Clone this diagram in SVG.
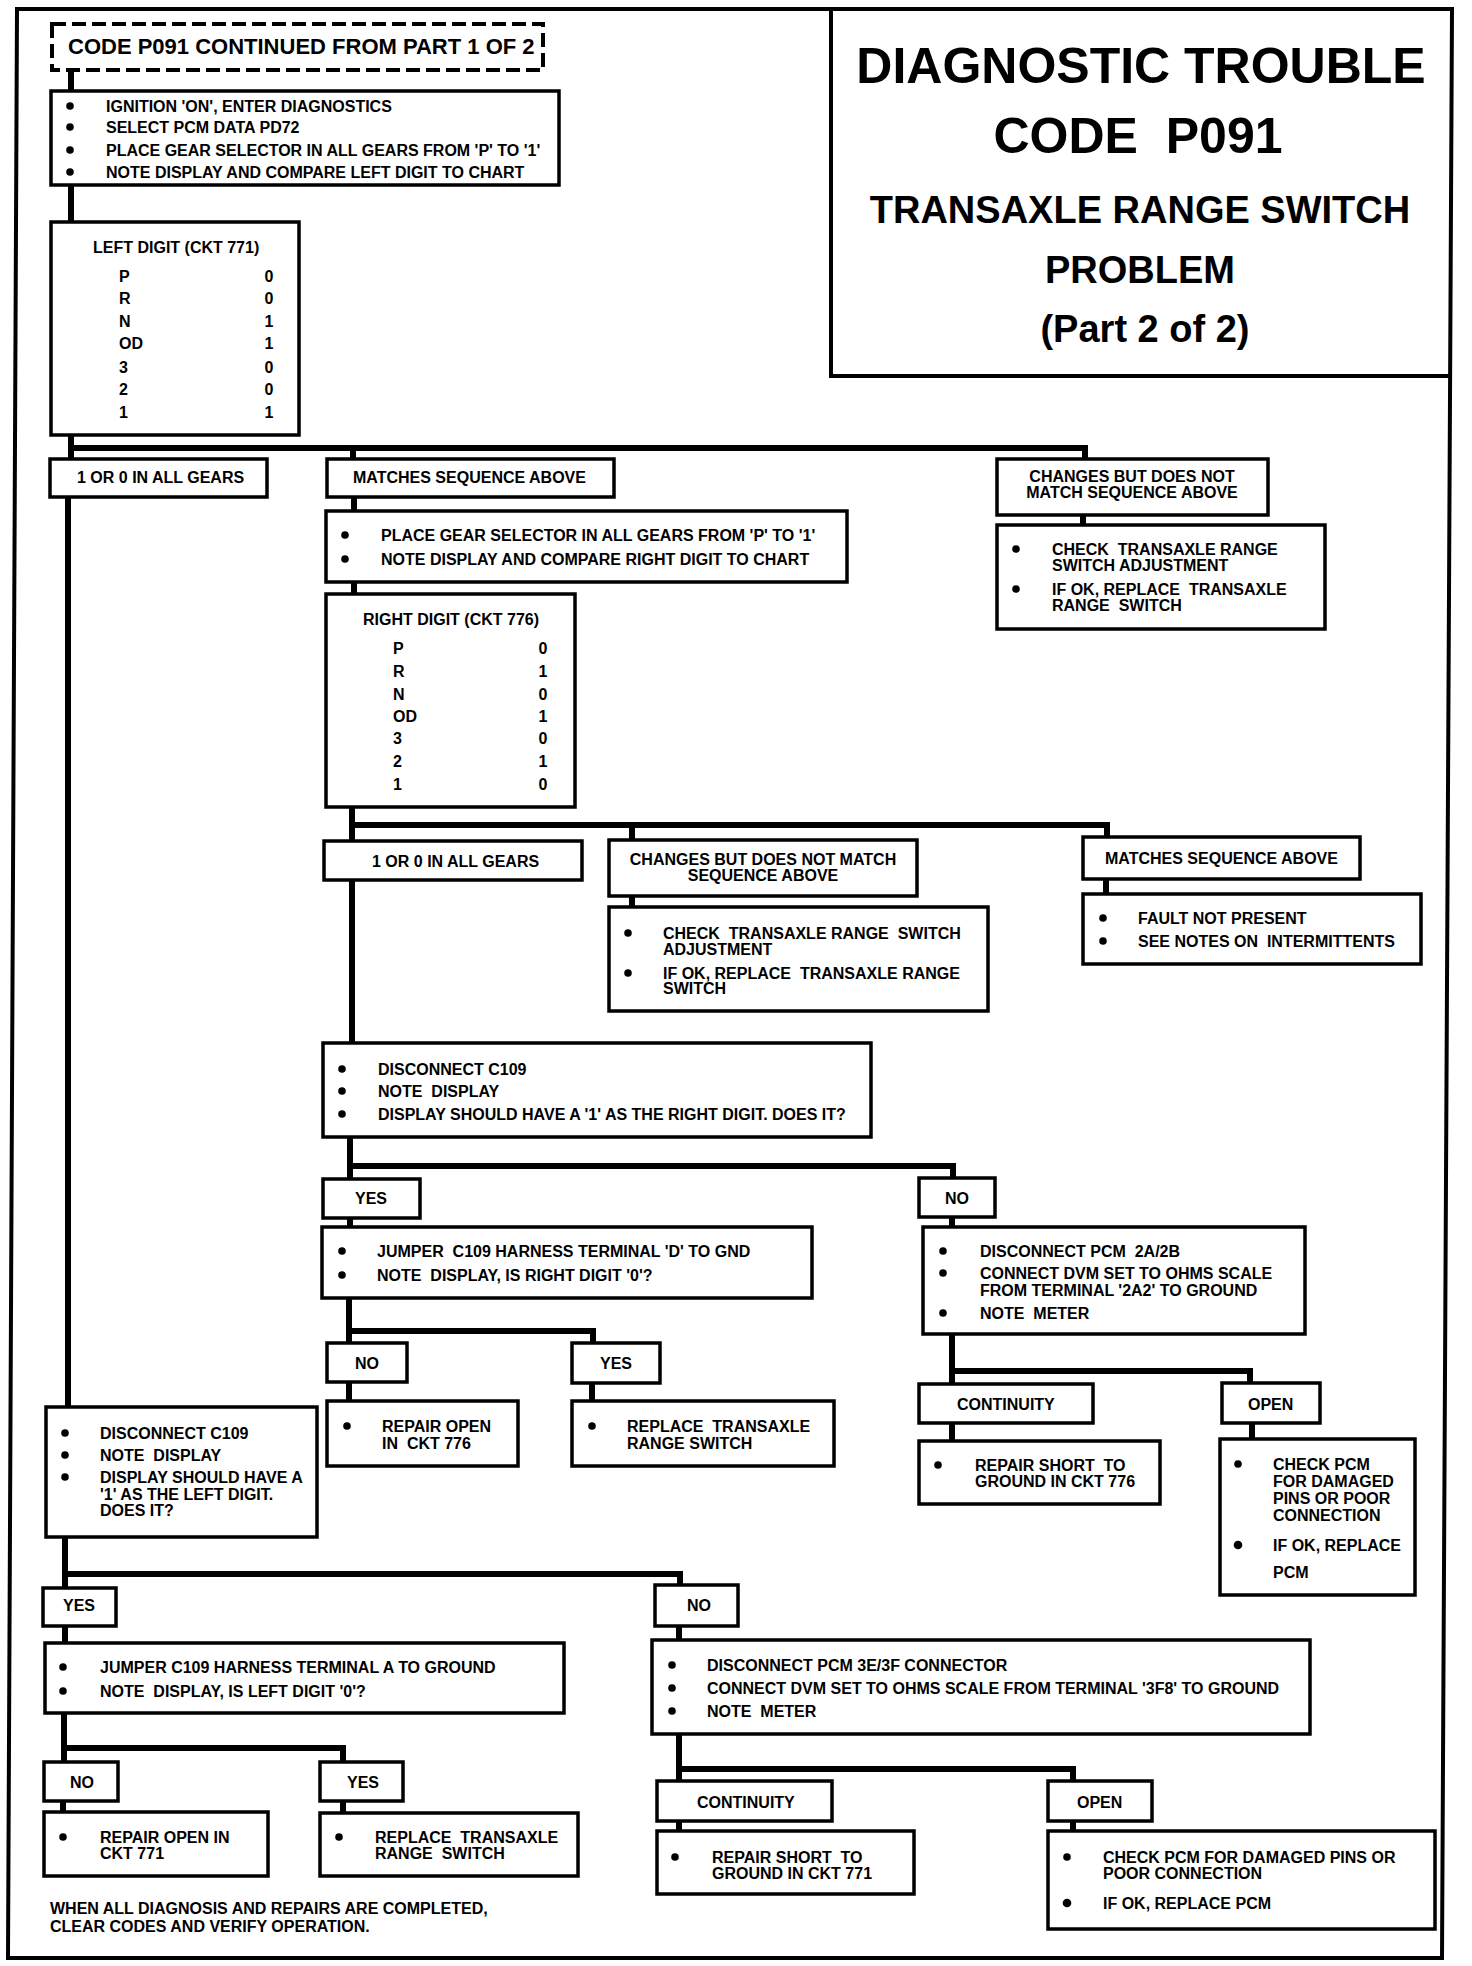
<svg xmlns="http://www.w3.org/2000/svg" width="1472" height="1966" viewBox="0 0 1472 1966">
<style>
.bg{fill:#fff}
.box{fill:#fff;stroke:#000;stroke-width:3.5}
.dash{fill:#fff;stroke:#000;stroke-width:4;stroke-dasharray:14 6}
.frame{fill:none;stroke:#000;stroke-width:4}
.conn{fill:none;stroke:#000;stroke-width:6}
.t{font-family:"Liberation Sans",Arial,Helvetica,sans-serif;font-weight:bold;font-size:16px;fill:#000;white-space:pre}
.c{text-anchor:middle}
.h1{font-size:50px}
.h2{font-size:38px}
.big{font-size:22px}
.b{fill:#000}
</style>
<rect class="bg" x="0" y="0" width="1472" height="1966"/>
<path class="frame" d="M17,9 L1452,9 L1442,1958 L8,1958 Z"/>
<path class="frame" d="M831,9 L831,376 L1450,376" stroke-width="3.5"/>
<g id="title">
<text class="t c h1" x="1141" y="83">DIAGNOSTIC TROUBLE</text>
<text class="t c h1" x="1138" y="153">CODE &#160;P091</text>
<text class="t c h2" x="1140" y="223">TRANSAXLE RANGE SWITCH</text>
<text class="t c h2" x="1140" y="283">PROBLEM</text>
<text class="t c h2" x="1145" y="342">(Part 2 of 2)</text>
</g>
<g id="connectors">
<path class="conn" d="M71,70 V91"/>
<path class="conn" d="M71,185 V222"/>
<path class="conn" d="M71,435 V459 M68,448 H1085 V459 M353,448 V459"/>
<path class="conn" d="M68,497 V1407"/>
<path class="conn" d="M354,497 V511 M354,582 V594"/>
<path class="conn" d="M352,807 V841 M349,825 H1107 V837 M632,825 V840"/>
<path class="conn" d="M352,880 V1043"/>
<path class="conn" d="M632,896 V907"/>
<path class="conn" d="M1106,879 V894"/>
<path class="conn" d="M1083,515 V525"/>
<path class="conn" d="M350,1137 V1179 M347,1166 H953 V1178"/>
<path class="conn" d="M350,1218 V1227"/>
<path class="conn" d="M349,1298 V1343 M346,1331 H593 V1343"/>
<path class="conn" d="M349,1382 V1401"/>
<path class="conn" d="M592,1383 V1401"/>
<path class="conn" d="M952,1217 V1227"/>
<path class="conn" d="M952,1334 V1384 M949,1371 H1250 V1383"/>
<path class="conn" d="M952,1423 V1441"/>
<path class="conn" d="M1252,1423 V1439"/>
<path class="conn" d="M65,1537 V1588 M62,1574 H680 V1585"/>
<path class="conn" d="M65,1626 V1643"/>
<path class="conn" d="M64,1713 V1762 M61,1748 H343 V1762"/>
<path class="conn" d="M63,1801 V1812"/>
<path class="conn" d="M343,1801 V1813"/>
<path class="conn" d="M679,1626 V1640"/>
<path class="conn" d="M679,1734 V1781 M676,1769 H1073 V1781"/>
<path class="conn" d="M679,1821 V1831"/>
<path class="conn" d="M1073,1821 V1831"/>
</g>
<g id="start">
<rect class="dash" x="52" y="24" width="491" height="46"/>
<text class="t big" x="68" y="54">CODE P091 CONTINUED FROM PART 1 OF 2</text>
</g>
<g id="step1">
<rect class="box" x="51" y="91" width="508" height="94"/>
<circle class="b" cx="70" cy="106" r="3.8"/><text class="t" x="106" y="112">IGNITION 'ON', ENTER DIAGNOSTICS</text>
<circle class="b" cx="70" cy="127" r="3.8"/><text class="t" x="106" y="133">SELECT PCM DATA PD72</text>
<circle class="b" cx="70" cy="150" r="3.8"/><text class="t" x="106" y="156">PLACE GEAR SELECTOR IN ALL GEARS FROM 'P' TO '1'</text>
<circle class="b" cx="70" cy="172" r="3.8"/><text class="t" x="106" y="178">NOTE DISPLAY AND COMPARE LEFT DIGIT TO CHART</text>
</g>
<g id="leftdigit">
<rect class="box" x="51" y="222" width="248" height="213"/>
<text class="t" x="93" y="253">LEFT DIGIT (CKT 771)</text>
<text class="t" x="119" y="282">P</text><text class="t c" x="269" y="282">0</text>
<text class="t" x="119" y="304">R</text><text class="t c" x="269" y="304">0</text>
<text class="t" x="119" y="327">N</text><text class="t c" x="269" y="327">1</text>
<text class="t" x="119" y="349">OD</text><text class="t c" x="269" y="349">1</text>
<text class="t" x="119" y="373">3</text><text class="t c" x="269" y="373">0</text>
<text class="t" x="119" y="395">2</text><text class="t c" x="269" y="395">0</text>
<text class="t" x="119" y="418">1</text><text class="t c" x="269" y="418">1</text>
</g>
<g id="l_allgears1">
<rect class="box" x="50" y="459" width="217" height="38"/>
<text class="t" x="77" y="483">1 OR 0 IN ALL GEARS</text>
</g>
<g id="l_matches1">
<rect class="box" x="327" y="459" width="287" height="38"/>
<text class="t" x="353" y="483">MATCHES SEQUENCE ABOVE</text>
</g>
<g id="l_changes1">
<rect class="box" x="997" y="459" width="271" height="56"/>
<text class="t c" x="1132" y="482">CHANGES BUT DOES NOT</text>
<text class="t c" x="1132" y="498">MATCH SEQUENCE ABOVE</text>
</g>
<g id="check1">
<rect class="box" x="997" y="525" width="328" height="104"/>
<circle class="b" cx="1016" cy="549" r="3.8"/><text class="t" x="1052" y="555">CHECK &#160;TRANSAXLE RANGE</text>
<text class="t" x="1052" y="571">SWITCH ADJUSTMENT</text>
<circle class="b" cx="1016" cy="589" r="3.8"/><text class="t" x="1052" y="595">IF OK, REPLACE &#160;TRANSAXLE</text>
<text class="t" x="1052" y="611">RANGE &#160;SWITCH</text>
</g>
<g id="step2">
<rect class="box" x="326" y="511" width="521" height="71"/>
<circle class="b" cx="345" cy="535" r="3.8"/><text class="t" x="381" y="541">PLACE GEAR SELECTOR IN ALL GEARS FROM 'P' TO '1'</text>
<circle class="b" cx="345" cy="559" r="3.8"/><text class="t" x="381" y="565">NOTE DISPLAY AND COMPARE RIGHT DIGIT TO CHART</text>
</g>
<g id="rightdigit">
<rect class="box" x="326" y="594" width="249" height="213"/>
<text class="t" x="363" y="625">RIGHT DIGIT (CKT 776)</text>
<text class="t" x="393" y="654">P</text><text class="t c" x="543" y="654">0</text>
<text class="t" x="393" y="677">R</text><text class="t c" x="543" y="677">1</text>
<text class="t" x="393" y="700">N</text><text class="t c" x="543" y="700">0</text>
<text class="t" x="393" y="722">OD</text><text class="t c" x="543" y="722">1</text>
<text class="t" x="393" y="744">3</text><text class="t c" x="543" y="744">0</text>
<text class="t" x="393" y="767">2</text><text class="t c" x="543" y="767">1</text>
<text class="t" x="393" y="790">1</text><text class="t c" x="543" y="790">0</text>
</g>
<g id="r_allgears">
<rect class="box" x="324" y="841" width="258" height="39"/>
<text class="t" x="372" y="867">1 OR 0 IN ALL GEARS</text>
</g>
<g id="r_changes">
<rect class="box" x="609" y="840" width="308" height="56"/>
<text class="t c" x="763" y="865">CHANGES BUT DOES NOT MATCH</text>
<text class="t c" x="763" y="881">SEQUENCE ABOVE</text>
</g>
<g id="check2">
<rect class="box" x="609" y="907" width="379" height="104"/>
<circle class="b" cx="628" cy="933" r="3.8"/><text class="t" x="663" y="939">CHECK &#160;TRANSAXLE RANGE &#160;SWITCH</text>
<text class="t" x="663" y="955">ADJUSTMENT</text>
<circle class="b" cx="628" cy="973" r="3.8"/><text class="t" x="663" y="979">IF OK, REPLACE &#160;TRANSAXLE RANGE</text>
<text class="t" x="663" y="994">SWITCH</text>
</g>
<g id="r_matches">
<rect class="box" x="1083" y="837" width="277" height="42"/>
<text class="t" x="1105" y="864">MATCHES SEQUENCE ABOVE</text>
</g>
<g id="fault">
<rect class="box" x="1083" y="894" width="338" height="70"/>
<circle class="b" cx="1103" cy="918" r="3.8"/><text class="t" x="1138" y="924">FAULT NOT PRESENT</text>
<circle class="b" cx="1103" cy="941" r="3.8"/><text class="t" x="1138" y="947">SEE NOTES ON &#160;INTERMITTENTS</text>
</g>
<g id="disc_r">
<rect class="box" x="323" y="1043" width="548" height="94"/>
<circle class="b" cx="342" cy="1069" r="3.8"/><text class="t" x="378" y="1075">DISCONNECT C109</text>
<circle class="b" cx="342" cy="1091" r="3.8"/><text class="t" x="378" y="1097">NOTE &#160;DISPLAY</text>
<circle class="b" cx="342" cy="1114" r="3.8"/><text class="t" x="378" y="1120">DISPLAY SHOULD HAVE A '1' AS THE RIGHT DIGIT. DOES IT?</text>
</g>
<g id="yes_r">
<rect class="box" x="323" y="1179" width="97" height="39"/>
<text class="t" x="355" y="1204">YES</text>
</g>
<g id="no_r">
<rect class="box" x="919" y="1178" width="76" height="39"/>
<text class="t" x="945" y="1204">NO</text>
</g>
<g id="jumper_r">
<rect class="box" x="322" y="1227" width="490" height="71"/>
<circle class="b" cx="342" cy="1251" r="3.8"/><text class="t" x="377" y="1257">JUMPER &#160;C109 HARNESS TERMINAL 'D' TO GND</text>
<circle class="b" cx="342" cy="1275" r="3.8"/><text class="t" x="377" y="1281">NOTE &#160;DISPLAY, IS RIGHT DIGIT '0'?</text>
</g>
<g id="pcm2a">
<rect class="box" x="923" y="1227" width="382" height="107"/>
<circle class="b" cx="943" cy="1251" r="3.8"/><text class="t" x="980" y="1257">DISCONNECT PCM &#160;2A/2B</text>
<circle class="b" cx="943" cy="1273" r="3.8"/><text class="t" x="980" y="1279">CONNECT DVM SET TO OHMS SCALE</text>
<text class="t" x="980" y="1296">FROM TERMINAL '2A2' TO GROUND</text>
<circle class="b" cx="943" cy="1313" r="3.8"/><text class="t" x="980" y="1319">NOTE &#160;METER</text>
</g>
<g id="no_r2">
<rect class="box" x="327" y="1343" width="80" height="39"/>
<text class="t" x="355" y="1369">NO</text>
</g>
<g id="yes_r2">
<rect class="box" x="572" y="1343" width="88" height="40"/>
<text class="t" x="600" y="1369">YES</text>
</g>
<g id="open776">
<rect class="box" x="327" y="1401" width="191" height="65"/>
<circle class="b" cx="347" cy="1426" r="3.8"/><text class="t" x="382" y="1432">REPAIR OPEN</text>
<text class="t" x="382" y="1449">IN &#160;CKT 776</text>
</g>
<g id="replace_r">
<rect class="box" x="572" y="1401" width="262" height="65"/>
<circle class="b" cx="592" cy="1426" r="3.8"/><text class="t" x="627" y="1432">REPLACE &#160;TRANSAXLE</text>
<text class="t" x="627" y="1449">RANGE SWITCH</text>
</g>
<g id="cont_r">
<rect class="box" x="919" y="1384" width="174" height="39"/>
<text class="t" x="957" y="1410">CONTINUITY</text>
</g>
<g id="open_r">
<rect class="box" x="1222" y="1383" width="98" height="40"/>
<text class="t" x="1248" y="1410">OPEN</text>
</g>
<g id="short776">
<rect class="box" x="919" y="1441" width="241" height="63"/>
<circle class="b" cx="938" cy="1465" r="3.8"/><text class="t" x="975" y="1471">REPAIR SHORT &#160;TO</text>
<text class="t" x="975" y="1487">GROUND IN CKT 776</text>
</g>
<g id="checkpcm_r">
<rect class="box" x="1220" y="1439" width="195" height="156"/>
<circle class="b" cx="1238" cy="1464" r="3.8"/><text class="t" x="1273" y="1470">CHECK PCM</text>
<text class="t" x="1273" y="1487">FOR DAMAGED</text>
<text class="t" x="1273" y="1504">PINS OR POOR</text>
<text class="t" x="1273" y="1521">CONNECTION</text>
<circle class="b" cx="1238" cy="1545" r="4.3"/><text class="t" x="1273" y="1551">IF OK, REPLACE</text>
<text class="t" x="1273" y="1578">PCM</text>
</g>
<g id="disc_l">
<rect class="box" x="46" y="1407" width="271" height="130"/>
<circle class="b" cx="65" cy="1433" r="3.8"/><text class="t" x="100" y="1439">DISCONNECT C109</text>
<circle class="b" cx="65" cy="1455" r="3.8"/><text class="t" x="100" y="1461">NOTE &#160;DISPLAY</text>
<circle class="b" cx="65" cy="1477" r="3.8"/><text class="t" x="100" y="1483">DISPLAY SHOULD HAVE A</text>
<text class="t" x="100" y="1500">'1' AS THE LEFT DIGIT.</text>
<text class="t" x="100" y="1516">DOES IT?</text>
</g>
<g id="yes_l">
<rect class="box" x="43" y="1588" width="73" height="38"/>
<text class="t" x="63" y="1611">YES</text>
</g>
<g id="no_l">
<rect class="box" x="655" y="1585" width="83" height="41"/>
<text class="t" x="687" y="1611">NO</text>
</g>
<g id="jumper_l">
<rect class="box" x="45" y="1643" width="519" height="70"/>
<circle class="b" cx="63" cy="1667" r="3.8"/><text class="t" x="100" y="1673">JUMPER C109 HARNESS TERMINAL A TO GROUND</text>
<circle class="b" cx="63" cy="1691" r="3.8"/><text class="t" x="100" y="1697">NOTE &#160;DISPLAY, IS LEFT DIGIT '0'?</text>
</g>
<g id="pcm3e">
<rect class="box" x="652" y="1640" width="658" height="94"/>
<circle class="b" cx="672" cy="1665" r="3.8"/><text class="t" x="707" y="1671">DISCONNECT PCM 3E/3F CONNECTOR</text>
<circle class="b" cx="672" cy="1688" r="3.8"/><text class="t" x="707" y="1694">CONNECT DVM SET TO OHMS SCALE FROM TERMINAL '3F8' TO GROUND</text>
<circle class="b" cx="672" cy="1711" r="3.8"/><text class="t" x="707" y="1717">NOTE &#160;METER</text>
</g>
<g id="no_l2">
<rect class="box" x="44" y="1762" width="74" height="39"/>
<text class="t" x="70" y="1788">NO</text>
</g>
<g id="yes_l2">
<rect class="box" x="320" y="1762" width="83" height="39"/>
<text class="t" x="347" y="1788">YES</text>
</g>
<g id="open771">
<rect class="box" x="44" y="1812" width="224" height="64"/>
<circle class="b" cx="63" cy="1837" r="3.8"/><text class="t" x="100" y="1843">REPAIR OPEN IN</text>
<text class="t" x="100" y="1859">CKT 771</text>
</g>
<g id="replace_l">
<rect class="box" x="320" y="1813" width="258" height="63"/>
<circle class="b" cx="339" cy="1837" r="3.8"/><text class="t" x="375" y="1843">REPLACE &#160;TRANSAXLE</text>
<text class="t" x="375" y="1859">RANGE &#160;SWITCH</text>
</g>
<g id="cont_l">
<rect class="box" x="657" y="1781" width="175" height="40"/>
<text class="t" x="697" y="1808">CONTINUITY</text>
</g>
<g id="open_l">
<rect class="box" x="1048" y="1781" width="104" height="40"/>
<text class="t" x="1077" y="1808">OPEN</text>
</g>
<g id="short771">
<rect class="box" x="657" y="1831" width="257" height="63"/>
<circle class="b" cx="675" cy="1857" r="3.8"/><text class="t" x="712" y="1863">REPAIR SHORT &#160;TO</text>
<text class="t" x="712" y="1879">GROUND IN CKT 771</text>
</g>
<g id="checkpcm_l">
<rect class="box" x="1048" y="1831" width="387" height="98"/>
<circle class="b" cx="1067" cy="1857" r="3.8"/><text class="t" x="1103" y="1863">CHECK PCM FOR DAMAGED PINS OR</text>
<text class="t" x="1103" y="1879">POOR CONNECTION</text>
<circle class="b" cx="1067" cy="1903" r="4.3"/><text class="t" x="1103" y="1909">IF OK, REPLACE PCM</text>
</g>
<g id="footer">
<text class="t" x="50" y="1914">WHEN ALL DIAGNOSIS AND REPAIRS ARE COMPLETED,</text>
<text class="t" x="50" y="1932">CLEAR CODES AND VERIFY OPERATION.</text>
</g>
</svg>
